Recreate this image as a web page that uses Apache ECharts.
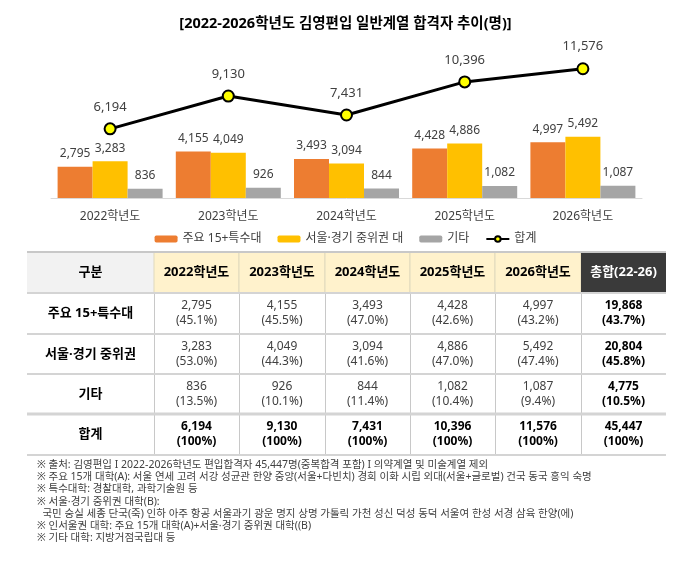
<!DOCTYPE html>
<html>
<head>
<meta charset="utf-8">
<script src="https://cdn.jsdelivr.net/npm/echarts@6/dist/echarts.min.js"></script>
<style>
html, body { margin: 0; padding: 0; background: #fff; }
#main { width: 691px; height: 563px; }
</style>
</head>
<body>
<div id="main"></div>
<script>
// chart data
var years = ['2022학년도', '2023학년도', '2024학년도', '2025학년도', '2026학년도'];
var major15 = [2795, 4155, 3493, 4428, 4997];
var seoulMid = [3283, 4049, 3094, 4886, 5492];
var others = [836, 926, 844, 1082, 1087];
var totals = [6194, 9130, 7431, 10396, 11576];

// table data
var rowNames = ['주요 15+특수대', '서울·경기 중위권', '기타', '합계'];
var major15Pct = ['45.1%', '45.5%', '47.0%', '42.6%', '43.2%'];
var seoulMidPct = ['53.0%', '44.3%', '41.6%', '47.0%', '47.4%'];
var othersPct = ['13.5%', '10.1%', '11.4%', '10.4%', '9.4%'];
var totalsPct = ['100%', '100%', '100%', '100%', '100%'];
var sumValues = [19868, 20804, 4775, 45447];
var sumPct = ['43.7%', '45.8%', '10.5%', '100%'];
var sumHeader = '총합(22-26)';

var notes = [
    '※ 출처: 김영편입 I 2022-2026학년도 편입합격자 45,447명(중복합격 포함) I 의약계열 및 미술계열 제외',
    '※ 주요 15개 대학(A): 서울 연세 고려 서강 성균관 한양 중앙(서울+다빈치) 경희 이화 시립 외대(서울+글로벌) 건국 동국 홍익 숙명',
    '※ 특수대학: 경찰대학, 과학기술원 등',
    '※ 서울·경기 중위권 대학(B):',
    '  국민 숭실 세종 단국(죽) 인하 아주 항공 서울과기 광운 명지 상명 가톨릭 가천 성신 덕성 동덕 서울여 한성 서경 삼육 한양(에)',
    '※ 인서울권 대학: 주요 15개 대학(A)+서울·경기 중위권 대학((B)',
    '※ 기타 대학: 지방거점국립대 등'
];

// latin glyphs (incl. the narrow middle dot) from Noto Sans, hangul from the CJK face
var FONT = '"Noto Sans", "Noto Sans CJK KR", sans-serif';

function fmt(v) {
    return v.toLocaleString('en-US');
}

function buildTable() {
    var colX = [27, 154, 239, 325, 410, 495, 581, 666];
    var rowY = [252, 293, 334, 374, 414, 455];
    var els = [];
    var i, j;
    var rows = [
        [major15, major15Pct],
        [seoulMid, seoulMidPct],
        [others, othersPct],
        [totals, totalsPct]
    ];

    // header backgrounds
    els.push({ type: 'rect', shape: { x: colX[0], y: rowY[0], width: colX[1] - colX[0], height: rowY[1] - rowY[0] },
        style: { fill: '#f2f2f2' } });
    for (i = 0; i < years.length; i++) {
        els.push({ type: 'rect', shape: { x: colX[i + 1], y: rowY[0], width: colX[i + 2] - colX[i + 1], height: rowY[1] - rowY[0] },
            style: { fill: '#fff2cc', stroke: '#e0d9bd', lineWidth: 1 } });
    }
    els.push({ type: 'rect', shape: { x: colX[6], y: rowY[0], width: colX[7] - colX[6], height: rowY[1] - rowY[0] },
        style: { fill: '#3a3a3a' } });

    // vertical lines in body
    for (i = 1; i < 7; i++) {
        els.push({ type: 'line', shape: { x1: colX[i] + 0.5, y1: rowY[1], x2: colX[i] + 0.5, y2: rowY[5] },
            style: { stroke: '#c8c8c8', lineWidth: 1 } });
    }
    // horizontal lines
    var hw = [2, 2, 2, 2, 3, 2];
    for (j = 0; j < rowY.length; j++) {
        els.push({ type: 'line', shape: { x1: colX[0], y1: rowY[j], x2: colX[7], y2: rowY[j] },
            style: { stroke: j === 0 ? '#c8c8c8' : '#d4d4d4', lineWidth: hw[j] } });
    }

    // header texts
    var headCy = (rowY[0] + rowY[1]) / 2;
    els.push({ type: 'text', style: { text: '구분', x: (colX[0] + colX[1]) / 2, y: headCy, align: 'center', verticalAlign: 'middle',
        font: 'bold 13px ' + FONT, fill: '#000' } });
    for (i = 0; i < years.length; i++) {
        els.push({ type: 'text', style: { text: years[i], x: (colX[i + 1] + colX[i + 2]) / 2, y: headCy, align: 'center', verticalAlign: 'middle',
            font: 'bold 13px ' + FONT, fill: '#000' } });
    }
    els.push({ type: 'text', style: { text: sumHeader, x: (colX[6] + colX[7]) / 2, y: headCy, align: 'center', verticalAlign: 'middle',
        font: 'bold 13px ' + FONT, fill: '#fff' } });

    // body
    for (j = 0; j < rows.length; j++) {
        var cy = (rowY[j + 1] + rowY[j + 2]) / 2;
        var last = j === rows.length - 1;
        els.push({ type: 'text', style: { text: rowNames[j], x: (colX[0] + colX[1]) / 2, y: cy, align: 'center', verticalAlign: 'middle',
            font: 'bold 13px ' + FONT, fill: '#000' } });
        for (i = 0; i < years.length; i++) {
            els.push({ type: 'text', style: { text: fmt(rows[j][0][i]) + '\n(' + rows[j][1][i] + ')',
                x: (colX[i + 1] + colX[i + 2]) / 2, y: cy, align: 'center', verticalAlign: 'middle', lineHeight: 15,
                font: (last ? 'bold ' : '') + '12px ' + FONT, fill: last ? '#000' : '#404040' } });
        }
        els.push({ type: 'text', style: { text: fmt(sumValues[j]) + '\n(' + sumPct[j] + ')',
            x: (colX[6] + colX[7]) / 2, y: cy, align: 'center', verticalAlign: 'middle', lineHeight: 15,
            font: 'bold 12px ' + FONT, fill: '#000' } });
    }

    // footnotes
    for (j = 0; j < notes.length; j++) {
        els.push({ type: 'text', style: { text: notes[j], x: 37, y: 465 + j * 12.2, align: 'left', verticalAlign: 'middle',
            font: '10.5px ' + FONT, fill: '#404040' } });
    }
    return els;
}

var chart = echarts.init(document.getElementById('main'), null, { renderer: 'canvas' });

var barLabel = {
    show: true,
    position: 'top',
    distance: 7,
    color: '#404040',
    fontSize: 12,
    fontFamily: FONT,
    formatter: function (p) { return fmt(p.value); }
};

chart.setOption({
    animation: false,
    backgroundColor: '#fff',
    textStyle: { fontFamily: FONT },
    title: {
        text: '[2022-2026학년도 김영편입 일반계열 합격자 추이(명)]',
        left: 'center',
        top: 12,
        textStyle: { fontSize: 14.5, fontWeight: 'bold', color: '#000', fontFamily: FONT }
    },
    legend: {
        top: 228,
        left: 'center',
        itemWidth: 23,
        itemHeight: 7,
        itemGap: 16,
        textStyle: { fontSize: 12, color: '#404040', fontFamily: FONT },
        data: ['주요 15+특수대', '서울·경기 중위권 대', '기타', '합계']
    },
    grid: { left: 51, right: 49, top: 64, height: 134 },
    xAxis: {
        type: 'category',
        data: years,
        axisLine: { lineStyle: { color: '#d9d9d9' } },
        axisTick: { show: false },
        axisLabel: { color: '#404040', fontSize: 12, margin: 13, fontFamily: FONT }
    },
    yAxis: {
        type: 'value',
        min: 0,
        max: 12000,
        show: false,
        splitLine: { show: false }
    },
    series: [
        { name: '주요 15+특수대', type: 'bar', data: major15, barWidth: 35, barGap: '0%',
            itemStyle: { color: '#ed7d31' }, label: barLabel },
        { name: '서울·경기 중위권 대', type: 'bar', data: seoulMid, barWidth: 35, barGap: '0%',
            itemStyle: { color: '#ffc000' }, label: barLabel },
        { name: '기타', type: 'bar', data: others, barWidth: 35, barGap: '0%',
            itemStyle: { color: '#a5a5a5' }, label: barLabel },
        { name: '합계', type: 'line', data: totals, z: 5,
            symbol: 'circle', symbolSize: 11,
            lineStyle: { color: '#000', width: 3 },
            itemStyle: { color: '#ffff00', borderColor: '#000', borderWidth: 2 },
            label: { show: true, position: 'top', distance: 9, color: '#404040', fontSize: 13, fontFamily: FONT,
                formatter: function (p) { return fmt(p.value); } } }
    ],
    graphic: buildTable()
});
</script>
</body>
</html>
